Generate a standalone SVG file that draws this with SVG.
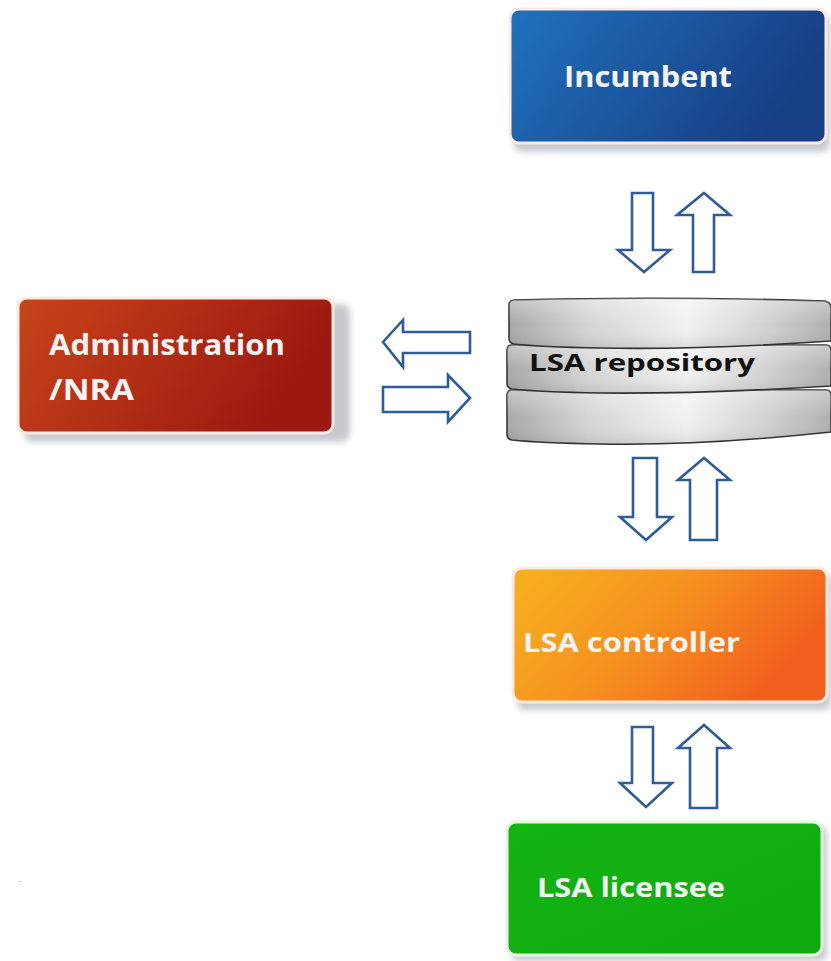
<svg xmlns="http://www.w3.org/2000/svg" width="831" height="961" viewBox="0 0 831 961">
<defs>
<linearGradient id="gBlue" x1="0" y1="0" x2="1" y2="0.3"><stop offset="0" stop-color="#2071bd"/><stop offset="1" stop-color="#173f84"/></linearGradient>
<linearGradient id="gRed" x1="0" y1="0" x2="1" y2="0.3"><stop offset="0" stop-color="#c8441a"/><stop offset="1" stop-color="#9c1810"/></linearGradient>
<linearGradient id="gOrange" x1="0" y1="0" x2="1" y2="0.4"><stop offset="0" stop-color="#f6b21e"/><stop offset="0.5" stop-color="#f69320"/><stop offset="1" stop-color="#f1601e"/></linearGradient>
<linearGradient id="gGreen" x1="0" y1="0" x2="1" y2="1"><stop offset="0" stop-color="#14b414"/><stop offset="1" stop-color="#10a810"/></linearGradient>
<linearGradient id="gDisc" x1="0" y1="0" x2="1" y2="0"><stop offset="0" stop-color="#a8a8a8"/><stop offset="0.25" stop-color="#d6d6d6"/><stop offset="0.55" stop-color="#f2f2f2"/><stop offset="0.8" stop-color="#d2d2d2"/><stop offset="1" stop-color="#b0b0b0"/></linearGradient>
<linearGradient id="gDiscV" x1="0" y1="0" x2="0" y2="1"><stop offset="0" stop-color="#fff" stop-opacity="0.35"/><stop offset="0.5" stop-color="#fff" stop-opacity="0"/><stop offset="1" stop-color="#000" stop-opacity="0.1"/></linearGradient>
<filter id="sh" x="-10%" y="-10%" width="125%" height="130%"><feGaussianBlur stdDeviation="3"/></filter>
</defs>
<style>
.box{stroke:#fbe9e4;stroke-width:3}
.shadow{fill:#9aa0a6;opacity:0.55}
.lbl{font-family:"Open Sans","DejaVu Sans",sans-serif;font-weight:bold;fill:#f4f4f4}
.dark{fill:#111}
.arr{fill:#ffffff;stroke:#2f5b96;stroke-width:2.6;stroke-linejoin:miter}
.disc{fill:url(#gDisc);stroke:#333;stroke-width:1.6}
.disc2{fill:url(#gDiscV);stroke:none}
</style>
<rect width="831" height="961" fill="#ffffff"/>

<g id="incumbent">
<rect class="shadow" x="514" y="14" width="316" height="138" rx="8" filter="url(#sh)"/>
<rect class="box" x="510" y="9" width="316" height="134" rx="9" fill="url(#gBlue)"/>
<text class="lbl" x="564" y="87" font-size="28" textLength="168" lengthAdjust="spacingAndGlyphs">Incumbent</text>
</g>

<g id="administration">
<rect class="shadow" x="24" y="304" width="326" height="138" rx="8" filter="url(#sh)"/>
<rect class="box" x="18" y="298" width="315" height="135" rx="9" fill="url(#gRed)"/>
<text class="lbl" x="49" y="355" font-size="28" textLength="236" lengthAdjust="spacingAndGlyphs">Administration</text>
<text class="lbl" x="49" y="400" font-size="28" textLength="85" lengthAdjust="spacingAndGlyphs">/NRA</text>
</g>

<g id="repository">
<path class="disc" d="M512,390 L826,390 Q831,390 831,396 L831,432 Q700,446 600,444 Q540,443 512,440 Q507,439 507,434 L507,396 Q507,390 512,390 Z"/>
<path class="disc2" d="M512,390 L826,390 Q831,390 831,396 L831,432 Q700,446 600,444 Q540,443 512,440 Q507,439 507,434 L507,396 Q507,390 512,390 Z"/>
<path class="disc" d="M512,345 L826,345 Q831,345 831,351 L831,386 Q700,394 600,393 Q540,392 512,389 Q507,388 507,383 L507,351 Q507,345 512,345 Z"/>
<path class="disc2" d="M512,345 L826,345 Q831,345 831,351 L831,386 Q700,394 600,393 Q540,392 512,389 Q507,388 507,383 L507,351 Q507,345 512,345 Z"/>
<path class="disc" d="M514,300 Q660,296 824,301 Q831,302 831,308 L831,341 Q700,350 600,348 Q540,347 514,344 Q509,343 509,338 L509,306 Q509,300 514,300 Z"/>
<path class="disc2" d="M514,300 Q660,296 824,301 Q831,302 831,308 L831,341 Q700,350 600,348 Q540,347 514,344 Q509,343 509,338 L509,306 Q509,300 514,300 Z"/>
<text class="lbl dark" x="529" y="371" font-size="24" textLength="226" lengthAdjust="spacingAndGlyphs">LSA repository</text>
</g>

<g id="controller">
<rect class="shadow" x="517" y="573" width="314" height="137" rx="8" filter="url(#sh)"/>
<rect class="box" x="513" y="568" width="314" height="134" rx="9" fill="url(#gOrange)"/>
<text class="lbl" x="523" y="652" font-size="26" textLength="217" lengthAdjust="spacingAndGlyphs">LSA controller</text>
</g>

<g id="licensee">
<rect class="shadow" x="511" y="826" width="316" height="135" rx="8" filter="url(#sh)"/>
<rect class="box" x="507" y="822" width="315" height="133" rx="9" fill="url(#gGreen)" style="stroke:#e6f7e0"/>
<text class="lbl" x="537" y="897" font-size="26" textLength="188" lengthAdjust="spacingAndGlyphs">LSA licensee</text>
</g>

<g id="connectors">
<path class="arr" d="M632,193 L653,193 L653,250 L670,250 L644,272 L618,250 L632,250 Z"/>
<path class="arr" d="M704,193 L730,215 L714,215 L714,272 L693,272 L693,215 L677,215 Z"/>
<path class="arr" d="M383,342 L403,320 L403,332 L470,332 L470,353 L403,353 L403,367 Z"/>
<path class="arr" d="M383,387 L448,387 L448,375 L470,398 L448,422 L448,412 L383,412 Z"/>
<path class="arr" d="M633,458 L657,458 L657,517 L672,517 L646,540 L620,517 L633,517 Z"/>
<path class="arr" d="M704,458 L730,480 L717,480 L717,540 L690,540 L690,480 L678,480 Z"/>
<path class="arr" d="M632,727 L653,727 L653,783 L672,783 L646,807 L620,783 L632,783 Z"/>
<path class="arr" d="M704,725 L730,748 L717,748 L717,808 L690,808 L690,748 L678,748 Z"/>
</g>
<text x="19" y="882" font-family="Liberation Sans, sans-serif" font-size="8" fill="#333">.</text>
</svg>
